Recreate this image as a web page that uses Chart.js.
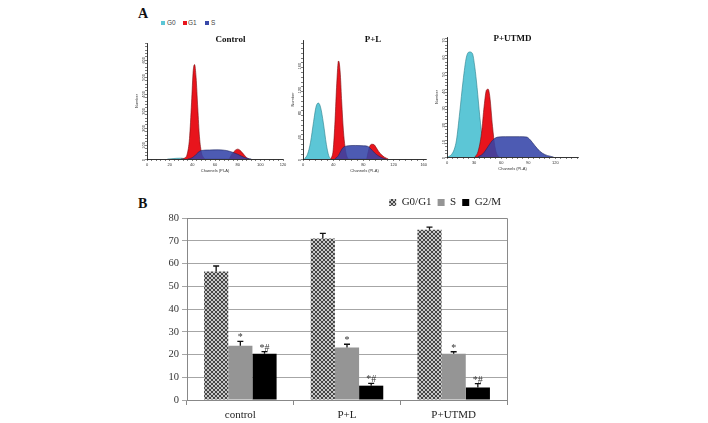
<!DOCTYPE html>
<html>
<head>
<meta charset="utf-8">
<script src="https://cdn.jsdelivr.net/npm/chart.js@4.4.0/dist/chart.umd.min.js"></script>
<style>
  body { margin: 0; background: #fff; width: 708px; height: 423px; position: relative; overflow: hidden; font-family: "Liberation Serif", serif; }
  canvas { position: absolute; }
  .panel { position: absolute; font-weight: bold; font-size: 14px; color: #111; }
  .lg { position: absolute; font-family: "Liberation Sans", sans-serif; font-size: 6.5px; color: #444; line-height: 8px; }
  .sq { position: absolute; width: 4px; height: 4px; }
</style>
</head>
<body>
<div class="panel" style="left:138px;top:6px">A</div>
<div class="sq" style="left:161px;top:21px;background:#5cc6d6"></div><div class="lg" style="left:167px;top:19px">G0</div>
<div class="sq" style="left:183px;top:21px;background:#e8141c"></div><div class="lg" style="left:188px;top:19px">G1</div>
<div class="sq" style="left:205px;top:21px;background:#3848a8"></div><div class="lg" style="left:211px;top:19px">S</div>
<div class="panel" style="left:138px;top:196px">B</div>

<canvas id="h1" width="155" height="140" style="left:134px;top:33px"></canvas>
<canvas id="h2" width="142" height="143" style="left:290px;top:30px"></canvas>
<canvas id="h3" width="150" height="144" style="left:434px;top:27px"></canvas>
<canvas id="bars" width="385" height="234" style="left:135px;top:189px"></canvas>

<script>
// ---- panel A: DNA histograms, [channel, count] ----
var controlG0 = [[18,0],[22,2],[26,4],[30,5],[33,3],[35,0]];
var controlG1 = [[30,0],[33,5],[35.5,30],[37.5,120],[39.3,330],[40.8,520],[42,555],[43.3,480],[44.8,300],[46.3,130],[48,40],[50,8],[52,0],
                 [72,0],[75,30],[78,52],[80,58],[82,52],[84,38],[86,22],[88,8],[90,0]];
var controlS  = [[36,0],[39,5],[42,18],[45,38],[48,50],[55,53],[63,54],[70,50],[74,43],[77,36],[80,28],[83,18],[86,9],[89,3],[92,0]];

var plG0 = [[2,0],[6,8],[10,28],[14,62],[17.5,88],[20.5,93],[23.5,85],[27,60],[31,24],[34,6],[37,0]];
var plG1 = [[37,0],[40,15],[42.5,65],[44.7,125],[47,163],[48,160],[49.5,140],[51.3,95],[53.5,48],[55.7,20],[58,5],[61,0],
            [84,0],[86,10],[88,20],[91,24.5],[94,24],[97,19],[100,13],[104,7],[108,3],[113,0]];
var plS  = [[42,0],[45,3],[47,6],[50,13],[53,19],[56,21],[60,22],[70,22.5],[80,22],[86,21],[89,18],[92,14],[95,10],[99,6],[103,3],[107,1],[110,0]];

var utG0 = [[1,0],[5,1.5],[8,4.5],[10.5,10],[14,26],[17.8,45],[21.5,59],[25.2,62],[28.2,61],[30.8,53],[33.3,41],[36.3,24],[39.3,10],[42,3.3],[45.6,0.5],[48,0]];
var utG1 = [[31,0],[34.4,3.3],[38.2,14],[41.1,30],[43.7,39.5],[45.6,40],[47.4,35.6],[50.4,18],[53,6.3],[55.5,1.4],[58,0]];
var utS  = [[34,0],[40,2],[45.6,6.3],[51,10.2],[56.7,11.8],[65,12],[80,12],[88,11.8],[92,10.2],[97.4,6.6],[103,3.3],[108.5,1.4],[114,0.5],[118,0]];

// ---- panel B: cell cycle distribution (%) ----
var groups   = ["control", "P+L", "P+UTMD"];
var g0g1     = [56.5, 71.0, 74.8];
var g0g1Err  = [2.4, 2.2, 1.2];
var sPhase   = [23.8, 23.1, 20.3];
var sErr     = [2.0, 1.4, 0.9];
var g2m      = [20.3, 6.3, 5.5];
var g2mErr   = [1.0, 1.0, 1.7];
var sMarks   = ["*", "*", "*"];
var g2mMarks = ["*#", "*#", "*#"];

var tiny = { family: "Liberation Sans", size: 4 };

function pts(arr) { return arr.map(function (p) { return { x: p[0], y: p[1] }; }); }

function every(n) {
  return function (v) { return Math.abs(v / n - Math.round(v / n)) < 1e-6 ? String(Math.round(v)) : ""; };
}

var panelTitle = {
  id: "panelTitle",
  afterDraw: function (chart) {
    var o = chart.options.plugins.panelTitle, a = chart.chartArea, ctx = chart.ctx;
    ctx.save();
    ctx.font = "bold 9px 'Liberation Serif'";
    ctx.fillStyle = "#111";
    ctx.textAlign = "center";
    ctx.textBaseline = "middle";
    ctx.fillText(o.text, (a.left + a.right) / 2 + o.dx, a.top + o.dy);
    ctx.restore();
  }
};

function hist(id, title, dx, dy, g0, g1, s, xMax, xStep, xLab, yMax, yStep, yLab) {
  new Chart(document.getElementById(id), {
    type: "line",
    data: {
      datasets: [
        { label: "G0", data: pts(g0), order: 2, backgroundColor: "#5cc6d6", borderColor: "#2b7f8c" },
        { label: "G1", data: pts(g1), order: 1, backgroundColor: "#e8141c", borderColor: "#7a0a0e" },
        { label: "S",  data: pts(s),  order: 0, backgroundColor: "rgba(52,68,168,0.88)", borderColor: "#1c2560" }
      ]
    },
    options: {
      responsive: false,
      animation: false,
      layout: { padding: { top: 10, right: 6, left: 0, bottom: 0 } },
      elements: {
        line: { fill: "origin", borderWidth: 0.6, cubicInterpolationMode: "monotone" },
        point: { radius: 0 }
      },
      plugins: {
        legend: { display: false },
        tooltip: { enabled: false },
        panelTitle: { text: title, dx: dx, dy: dy }
      },
      scales: {
        x: {
          type: "linear", min: 0, max: xMax,
          grid: { drawOnChartArea: false, tickLength: 2, color: "#000", lineWidth: 0.5 },
          border: { color: "#000", width: 0.8 },
          ticks: { stepSize: xStep, autoSkip: false, maxRotation: 0, includeBounds: false, font: tiny, color: "#333", padding: 1, callback: every(xLab) },
          title: { display: true, text: "Channels (PI-A)", font: tiny, color: "#333", padding: 0 },
          afterFit: function (sc) { sc.height = 14; }
        },
        y: {
          min: 0, max: yMax,
          grid: { drawOnChartArea: false, tickLength: 2, color: "#000", lineWidth: 0.5 },
          border: { color: "#000", width: 0.8 },
          ticks: { stepSize: yStep, autoSkip: false, minRotation: 90, maxRotation: 90, includeBounds: false, font: tiny, color: "#333", padding: 1, callback: every(yLab) },
          title: { display: true, text: "Number", font: tiny, color: "#333", padding: 0 },
          afterFit: function (sc) { sc.width = 13; }
        }
      }
    },
    plugins: [panelTitle]
  });
}

hist("h1", "Control", 15.5, -3.7, controlG0, controlG1, controlS, 120, 4, 20, 682, 20, 100);
hist("h2", "P+L", 8.5, 0, plG0, plG1, plS, 163, 8, 40, 198, 8, 40);
hist("h3", "P+UTMD", 0, 1.5, utG0, utG1, utS, 145, 6, 30, 70.8, 2, 10);

// ---- panel B ----
var barCanvas = document.getElementById("bars");
var pc = document.createElement("canvas");
pc.width = 4; pc.height = 4;
var px = pc.getContext("2d");
px.fillStyle = "#454545"; px.fillRect(0, 0, 4, 4);
px.fillStyle = "#c8c8c8"; px.fillRect(0, 0, 2, 2); px.fillRect(2, 2, 2, 2);
var checker = barCanvas.getContext("2d").createPattern(pc, "repeat");

var errBars = {
  id: "errBars",
  afterDatasetsDraw: function (chart) {
    var ctx = chart.ctx, y = chart.scales.y;
    chart.data.datasets.forEach(function (ds, i) {
      chart.getDatasetMeta(i).data.forEach(function (bar, j) {
        var top = y.getPixelForValue(ds.data[j] + ds.errors[j]);
        ctx.save();
        ctx.strokeStyle = "#111";
        ctx.lineWidth = 1.3;
        ctx.beginPath();
        ctx.moveTo(bar.x, bar.y); ctx.lineTo(bar.x, top);
        ctx.moveTo(bar.x - 3, top); ctx.lineTo(bar.x + 3, top);
        ctx.stroke();
        if (ds.marks) {
          ctx.fillStyle = "#333";
          ctx.font = "10px 'Liberation Serif'";
          ctx.textAlign = "center";
          ctx.textBaseline = "alphabetic";
          ctx.fillText(ds.marks[j], bar.x, top - 1);
        }
        ctx.restore();
      });
    });
  }
};

var frame = {
  id: "frame",
  beforeDatasetsDraw: function (chart) {
    var a = chart.chartArea, ctx = chart.ctx;
    ctx.save();
    ctx.strokeStyle = "#8a8a8a";
    ctx.lineWidth = 1;
    ctx.beginPath();
    ctx.moveTo(a.left, a.top + 0.5); ctx.lineTo(a.right + 0.5, a.top + 0.5); ctx.lineTo(a.right + 0.5, a.bottom);
    ctx.stroke();
    ctx.restore();
  }
};

var serif = { family: "Liberation Serif", size: 11 };

new Chart(barCanvas, {
  type: "bar",
  data: {
    labels: groups,
    datasets: [
      { label: "G0/G1", data: g0g1, errors: g0g1Err, backgroundColor: checker },
      { label: "S", data: sPhase, errors: sErr, marks: sMarks, backgroundColor: "#959595" },
      { label: "G2/M", data: g2m, errors: g2mErr, marks: g2mMarks, backgroundColor: "#000" }
    ]
  },
  options: {
    responsive: false,
    animation: false,
    layout: { padding: { right: 13, top: 2, left: 0, bottom: 0 } },
    datasets: { bar: { categoryPercentage: 0.68, barPercentage: 1.0, borderWidth: 0 } },
    plugins: {
      legend: {
        position: "top", align: "end",
        labels: { boxWidth: 7, boxHeight: 7, padding: 6, font: serif, color: "#222" }
      },
      tooltip: { enabled: false }
    },
    scales: {
      x: {
        grid: { drawOnChartArea: false, tickLength: 5, color: "#888", offset: true },
        border: { color: "#888" },
        ticks: { font: serif, color: "#222", padding: 4 },
        afterFit: function (sc) { sc.height = 23; }
      },
      y: {
        min: 0, max: 80,
        grid: { color: "#a6a6a6", tickLength: 5 },
        border: { color: "#888" },
        ticks: { stepSize: 10, font: { family: "Liberation Serif", size: 10.5 }, color: "#333", padding: 3 },
        afterFit: function (sc) { sc.width = 52; }
      }
    }
  },
  plugins: [frame, errBars]
});
</script>
</body>
</html>
